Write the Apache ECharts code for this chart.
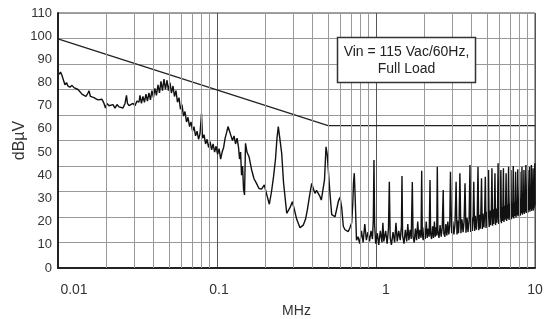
<!DOCTYPE html>
<html>
<head>
<meta charset="utf-8">
<script src="https://cdn.jsdelivr.net/npm/echarts@6/dist/echarts.min.js"></script>
<style>
  html, body { margin: 0; padding: 0; background: #fff; }
  #chart { width: 550px; height: 319px; }
</style>
</head>
<body>
<div id="chart"></div>
<script>
// tick labels on the log frequency axis (0.01, 0.1, 1, 10 MHz)
const xTickLabels = ['0.01', '0.1', '1', '10'];

// limit line [MHz, dBuV]
const limitLine = [[0.01, 98.8], [0.5, 61.4], [10, 61.4]];

// measured conducted emission [MHz, dBuV]
const emission = [
  [0.01015, 83.5], [0.01037, 84.5], [0.0106, 83], [0.01083, 81], [0.01106, 79], [0.01131, 80],
  [0.01156, 78.5], [0.0119, 78], [0.01225, 78.8], [0.0126, 77.8], [0.01297, 78], [0.01336, 77],
  [0.01375, 76.5], [0.01415, 75], [0.01457, 74.5], [0.015, 74], [0.01544, 75.5], [0.01566, 76.5],
  [0.016, 74], [0.01636, 74.5], [0.01684, 73.5], [0.01734, 73], [0.01785, 72.5], [0.01837, 72],
  [0.01891, 72.8], [0.01947, 71], [0.0199, 69], [0.02033, 71], [0.02093, 70], [0.02154, 69.5],
  [0.02218, 70.5], [0.02283, 69], [0.0235, 70.5], [0.02419, 69.5], [0.0249, 70.2], [0.02563, 69],
  [0.02639, 71], [0.02696, 74.5], [0.02735, 71], [0.02795, 70], [0.02877, 69.5], [0.02962, 71],
  [0.03049, 70], [0.03138, 72], [0.03231, 71.5],
  [0.03277, 74.5], [0.03349, 71], [0.03422, 74], [0.03497, 71.5], [0.03574, 75], [0.03652, 72],
  [0.03732, 75.5], [0.03814, 72.5], [0.03898, 76.5], [0.03983, 73.5], [0.0407, 77.5], [0.0416, 74.5],
  [0.04255, 79], [0.0435, 75.5], [0.0444, 80.5], [0.0454, 76.5], [0.0464, 81.5], [0.0474, 77],
  [0.0485, 81], [0.0495, 76.5], [0.0506, 80], [0.0517, 75.5], [0.0529, 78.5], [0.054, 74],
  [0.0552, 76.5], [0.0564, 71.5], [0.0577, 73.5], [0.0589, 68.5], [0.0602, 70.5], [0.0616, 65.5],
  [0.0629, 67.5], [0.0643, 63], [0.0657, 65], [0.0672, 61], [0.0686, 63], [0.0702, 59],
  [0.0717, 61], [0.0733, 57], [0.0749, 59], [0.0766, 55.5], [0.0782, 58], [0.0799, 66.5],
  [0.0811, 56], [0.0829, 57.5], [0.0847, 53.5], [0.0866, 55.5], [0.0885, 52], [0.0905, 54.5],
  [0.0925, 51], [0.0945, 53.5], [0.0966, 50], [0.0987, 52.5], [0.1009, 49], [0.1031, 51.5],
  [0.1054, 47], [0.1077, 50], [0.1101, 52], [0.1125, 56], [0.115, 58.5], [0.1173, 61],
  [0.1199, 59], [0.1225, 57], [0.1252, 55], [0.128, 57], [0.1308, 53.5], [0.1337, 56],
  [0.1366, 52], [0.1386, 47], [0.1407, 50], [0.1427, 40], [0.1448, 44], [0.1469, 34],
  [0.149, 31.5], [0.1511, 53.8],
  [0.1544, 50], [0.159, 48], [0.1649, 42.5], [0.1709, 38.5], [0.1772, 36.5], [0.1837, 34.3],
  [0.1905, 34], [0.1984, 35.8], [0.2049, 32], [0.2134, 27.5], [0.2203, 33], [0.2268, 39.4],
  [0.2333, 47], [0.2384, 56], [0.243, 61], [0.2472, 57], [0.2552, 49.5], [0.262, 37],
  [0.2744, 23.6], [0.2878, 26], [0.2976, 28.6], [0.3072, 25], [0.3172, 21], [0.3327, 17.4],
  [0.349, 18.5], [0.3603, 21], [0.3698, 25], [0.3818, 31], [0.3942, 36.5], [0.4046, 34],
  [0.4134, 32.2], [0.4225, 33.5], [0.4337, 32.9], [0.4432, 31], [0.453, 29.3], [0.4622, 28.5],
  [0.4744, 38], [0.4848, 52.3], [0.4933, 49], [0.5013, 42.3], [0.5115, 33.6], [0.5266, 23],
  [0.5404, 22.5], [0.5523, 22.1], [0.5685, 26], [0.581, 29], [0.5938, 30.5], [0.6086, 26],
  [0.6228, 18], [0.6383, 16.5], [0.6543, 16.4], [0.6696, 15.7], [0.6863, 17.5], [0.7034, 19.5],
  [0.7147, 28], [0.722, 37], [0.7304, 40.9], [0.74, 30], [0.754, 12], [0.7706, 13.5],
  [0.79, 10.5], [0.81, 16], [0.83, 11], [0.85, 19], [0.87, 12], [0.89, 15.5], [0.91, 11.5],
  [0.93, 16], [0.95, 12.5], [0.962, 21], [0.971, 46.6], [0.98, 19], [0.995, 10.5], [1.02, 15],
  [1.04, 10], [1.065, 16], [1.09, 11], [1.105, 19.5], [1.12, 11.5], [1.15, 16], [1.175, 10.5],
  [1.198, 17], [1.213, 37.2], [1.228, 13], [1.25, 10], [1.28, 15.5], [1.31, 11], [1.335, 19.5],
  [1.36, 11.5], [1.39, 16], [1.42, 12], [1.445, 18], [1.457, 39.7], [1.47, 14], [1.5, 10.5],
  [1.53, 16.5], [1.56, 11.5], [1.585, 19], [1.61, 12], [1.64, 16.5], [1.665, 12.5], [1.692, 37.1],
  [1.71, 13.5], [1.74, 11], [1.77, 17], [1.8, 12], [1.83, 20], [1.86, 12.5], [1.89, 16.5],
  [1.92, 13], [1.938, 42], [1.955, 15], [1.98, 12], [2.01, 17.5], [2.04, 12.5], [2.07, 20],
  [2.1, 13], [2.13, 17], [2.16, 13.5], [2.186, 38], [2.205, 15], [2.235, 12.5], [2.27, 18],
  [2.3, 13], [2.33, 20], [2.36, 13.5], [2.39, 17.5], [2.41, 14], [2.43, 43.7], [2.45, 16],
  [2.49, 13], [2.53, 18.5], [2.57, 13.5], [2.61, 17.5], [2.647, 33.6], [2.67, 15], [2.71, 13.5],
  [2.75, 19], [2.79, 14], [2.83, 20], [2.87, 14.5], [2.91, 18.5],
  [2.94, 41.5], [2.99, 15], [3.04, 20], [3.09, 14.5], [3.14, 19],
  [3.19, 37.2], [3.23, 14.5], [3.26, 20.5], [3.3, 15], [3.33, 19.5],
  [3.37, 40.9], [3.42, 15], [3.47, 21], [3.53, 15.5], [3.58, 20],
  [3.63, 36.5], [3.68, 15.2], [3.74, 21.5], [3.79, 15.5], [3.85, 20.5],
  [3.9, 44.4], [3.94, 15.5], [3.99, 22], [4.03, 16], [4.08, 21],
  [4.12, 37.2], [4.17, 16], [4.22, 22.5], [4.28, 16.5], [4.33, 21.5],
  [4.38, 43.7], [4.43, 16.3], [4.47, 23], [4.52, 17], [4.56, 22],
  [4.61, 38.7], [4.66, 16.8], [4.71, 23.5], [4.77, 17.5], [4.82, 22.5],
  [4.87, 39.4], [4.92, 17.3], [4.96, 24.3], [5.01, 18], [5.05, 23.5],
  [5.1, 42.3], [5.15, 17.7], [5.2, 24.8], [5.26, 18.5], [5.31, 24],
  [5.36, 43], [5.41, 18.2], [5.46, 25.3], [5.5, 19], [5.55, 24.5],
  [5.6, 40.9], [5.65, 18.5], [5.7, 25.7], [5.76, 19.5], [5.81, 25],
  [5.86, 45.2], [5.91, 19], [5.96, 26], [6.0, 20], [6.05, 25.5],
  [6.1, 42.3], [6.15, 19.3], [6.19, 26.3], [6.24, 20.3], [6.28, 25.8],
  [6.33, 43], [6.38, 19.8], [6.43, 26.8], [6.48, 20.8], [6.53, 26.3],
  [6.58, 40.9], [6.63, 20.3], [6.68, 27.3], [6.72, 21.3], [6.77, 26.8],
  [6.82, 43.7], [6.87, 20.7], [6.92, 27.7], [6.96, 21.7], [7.01, 27.2],
  [7.06, 42.3], [7.11, 21], [7.16, 28], [7.2, 22], [7.25, 27.5],
  [7.3, 44], [7.35, 21.4], [7.4, 28.4], [7.45, 22.4], [7.5, 27.9],
  [7.55, 41.5], [7.6, 21.8], [7.65, 28.8], [7.69, 22.8], [7.74, 28.3],
  [7.79, 42.6], [7.84, 22.3], [7.89, 29.2], [7.93, 23.2], [7.98, 28.7],
  [8.03, 41.5], [8.08, 22.6], [8.13, 29.6], [8.18, 23.6], [8.23, 29],
  [8.28, 43.7], [8.33, 23], [8.38, 29.8], [8.42, 24], [8.47, 29.3],
  [8.52, 42.3], [8.57, 23.3], [8.62, 30.1], [8.66, 24.3], [8.71, 29.6],
  [8.76, 44.4], [8.81, 23.7], [8.86, 30.3], [8.9, 24.7], [8.95, 29.9],
  [9.0, 42.3], [9.05, 24], [9.1, 30.6], [9.14, 25], [9.19, 30.1],
  [9.24, 43.7], [9.29, 24.3], [9.34, 30.9], [9.39, 25.3], [9.44, 30.4],
  [9.49, 44.4], [9.54, 24.6], [9.59, 31.3], [9.63, 25.6], [9.68, 30.8],
  [9.73, 43], [9.78, 24.8], [9.83, 31.6], [9.87, 25.8], [9.92, 31.1],
  [9.97, 45.2], [10.0, 27]
];

// 2..9 lines inside each decade of the log grid
const minorFreqs = [0.01, 0.1, 1].flatMap(d => [2, 3, 4, 5, 6, 7, 8, 9].map(k => k * d));

const font = "'Liberation Sans', Arial, sans-serif";
const textColor = '#333';

const xRich = {};
[32, 4, 20, 0].forEach((pad, i) => {
  xRich['t' + i] = { padding: [0, 0, 0, pad], fontSize: 14, fontFamily: font, color: textColor };
});

const chart = echarts.init(document.getElementById('chart'));
chart.setOption({
  animation: false,
  backgroundColor: '#fff',
  grid: {
    left: 58, right: 15, top: 13, bottom: 51,
    outerBoundsMode: 'none',
    containLabel: false,
    show: true, borderColor: '#444', borderWidth: 1,
  },
  xAxis: {
    type: 'log',
    logBase: 10,
    min: 0.01,
    max: 10,
    name: 'MHz',
    nameLocation: 'middle',
    nameGap: 36,
    nameTextStyle: { fontSize: 14, fontFamily: font, color: textColor },
    axisLine: { show: true, lineStyle: { color: '#222', width: 2 } },
    axisTick: { show: false },
    splitLine: { show: true, lineStyle: { color: '#555', width: 1 } },
    axisLabel: {
      margin: 15,
      showMinLabel: true,
      showMaxLabel: true,
      formatter: (v) => {
        const i = Math.round(Math.log10(v)) + 2;
        return '{t' + i + '|' + xTickLabels[i] + '}';
      },
      rich: xRich,
    },
  },
  yAxis: [
    {
      type: 'value',
      min: 0,
      max: 110,
      interval: 10,
      name: 'dBµV',
      nameLocation: 'middle',
      nameGap: 30,
      nameMoveOverlap: false,
      nameTextStyle: { fontSize: 16, fontFamily: font, color: textColor },
      axisLine: { show: true, lineStyle: { color: '#222', width: 2 } },
      axisTick: { show: false },
      splitLine: { show: false },
      axisLabel: {
        margin: 6,
        padding: [6, 0, 0, 0],
        fontSize: 13,
        fontFamily: font,
        color: textColor,
      },
    },
    {
      // horizontal grid of the original chart: ten equal divisions
      type: 'value',
      min: 0,
      max: 10,
      interval: 1,
      position: 'right',
      axisLine: { show: false },
      axisTick: { show: false },
      axisLabel: { show: false },
      splitLine: { show: true, lineStyle: { color: '#999', width: 1 } },
    },
  ],
  series: [
    {
      type: 'line',
      data: [],
      z: 1,
      silent: true,
      markLine: {
        silent: true,
        animation: false,
        symbol: ['none', 'none'],
        label: { show: false },
        lineStyle: { color: '#999', width: 1, type: 'solid' },
        emphasis: { disabled: true },
        data: minorFreqs.map(v => ({ xAxis: v })),
      },
    },
    {
      name: 'Limit',
      type: 'line',
      data: limitLine,
      z: 3,
      showSymbol: false,
      lineStyle: { color: '#222', width: 1.3 },
    },
    {
      name: 'Emission',
      type: 'line',
      data: emission,
      z: 4,
      showSymbol: false,
      lineStyle: { color: '#111', width: 1.4 },
    },
  ],
  graphic: [
    {
      type: 'rect',
      z: 100,
      shape: { x: 337.5, y: 37.5, width: 138, height: 45 },
      style: { fill: '#fff', stroke: '#333', lineWidth: 1.5 },
    },
    {
      type: 'text',
      z: 101,
      x: 406.5,
      y: 60.5,
      style: {
        text: 'Vin = 115 Vac/60Hz,\nFull Load',
        align: 'center',
        verticalAlign: 'middle',
        fontSize: 14,
        lineHeight: 17.5,
        fontFamily: font,
        fill: '#222',
      },
    },
  ],
});
</script>
</body>
</html>
